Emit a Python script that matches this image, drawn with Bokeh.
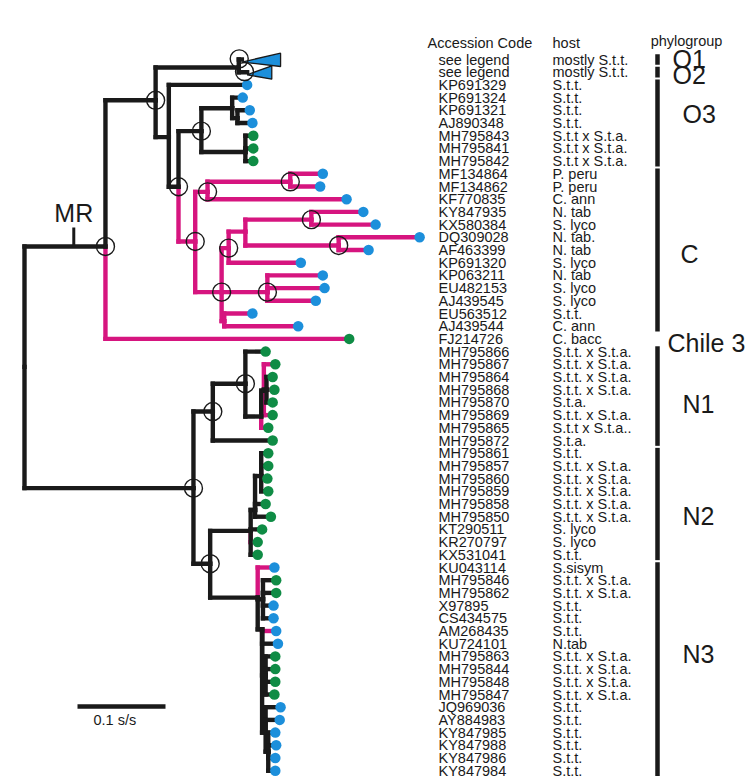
from bokeh.plotting import figure
from bokeh.models import Range1d, ColumnDataSource, Label
from bokeh.core.properties import value
from bokeh.embed import file_html
from bokeh.resources import INLINE

# ---------------- data ----------------
accessions = ["see legend", "see legend", "KP691329", "KP691324", "KP691321", "AJ890348",
              "MH795843", "MH795841", "MH795842", "MF134864", "MF134862", "KF770835",
              "KY847935", "KX580384", "DQ309028", "AF463399", "KP691320", "KP063211",
              "EU482153", "AJ439545", "EU563512", "AJ439544", "FJ214726",
              "MH795866", "MH795867", "MH795864", "MH795868", "MH795870", "MH795869",
              "MH795865", "MH795872",
              "MH795861", "MH795857", "MH795860", "MH795859", "MH795858", "MH795850",
              "KT290511", "KR270797", "KX531041",
              "KU043114", "MH795846", "MH795862", "X97895", "CS434575", "AM268435",
              "KU724101", "MH795863", "MH795844", "MH795848", "MH795847", "JQ969036",
              "AY884983", "KY847985", "KY847988", "KY847986", "KY847984"]

hosts = ["mostly S.t.t.", "mostly S.t.t.", "S.t.t.", "S.t.t.", "S.t.t.", "S.t.t.",
         "S.t.t x S.t.a.", "S.t.t x S.t.a.", "S.t.t x S.t.a.", "P. peru", "P. peru", "C. ann",
         "N. tab", "S. lyco", "N. tab.", "N. tab", "S. lyco", "N. tab",
         "S. lyco", "S. lyco", "S.t.t.", "C. ann", "C. bacc",
         "S.t.t. x S.t.a.", "S.t.t. x S.t.a.", "S.t.t. x S.t.a.", "S.t.t. x S.t.a.", "S.t.a.",
         "S.t.t. x S.t.a.", "S.t.t x S.t.a..", "S.t.a.",
         "S.t.t.", "S.t.t. x S.t.a.", "S.t.t. x S.t.a.", "S.t.t. x S.t.a.", "S.t.t. x S.t.a.",
         "S.t.t. x S.t.a.", "S. lyco", "S. lyco", "S.t.t.",
         "S.sisym", "S.t.t. x S.t.a.", "S.t.t. x S.t.a.", "S.t.t.", "S.t.t.", "S.t.t.",
         "N.tab", "S.t.t. x S.t.a.", "S.t.t. x S.t.a.", "S.t.t. x S.t.a.", "S.t.t. x S.t.a.",
         "S.t.t.", "S.t.t.", "S.t.t.", "S.t.t.", "S.t.t.", "S.t.t."]

tip_parent = ["nO12", "nO12", "n168", "n232", "n237", "n237",
              "n245g", "n245g", "n245g", "n290", "n290", "n207",
              "n311", "n311", "n338", "n338", "n228", "n267",
              "n267", "n267", "n224", "n224", "n105",
              "n245n", "n1b", "n1c", "n1c", "n1c", "n1b", "n1a", "n212",
              "n2c", "n2c", "n2c", "n2c", "n2b", "n2b", "n2a", "n2a", "n2a",
              "n3a", "n3b", "n3b", "n3b", "n3b", "n3c", "n3c", "n3d", "n3d", "n3d", "n3d",
              "n3e", "n3e", "n3f", "n3f", "n3f", "n3f"]

# distance from root (substitutions / site)
tip_depth = [0.247, 0.253, 0.253, 0.248, 0.256, 0.259,
             0.260, 0.260, 0.260, 0.339, 0.336, 0.366,
             0.385, 0.399, 0.449, 0.391, 0.314, 0.339,
             0.341, 0.331, 0.259, 0.311, 0.369,
             0.274, 0.285, 0.282, 0.284, 0.282, 0.282, 0.277, 0.282,
             0.277, 0.277, 0.276, 0.277, 0.274, 0.280, 0.270, 0.265, 0.265,
             0.284, 0.286, 0.286, 0.283, 0.283, 0.286, 0.288, 0.285, 0.285, 0.285, 0.284,
             0.291, 0.290, 0.285, 0.286, 0.285, 0.285]

# branch colour: k = black, p = pink
tip_branch = ["k", "k", "k", "k", "k", "k",
              "k", "k", "k", "p", "p", "p",
              "p", "p", "p", "p", "p", "p",
              "p", "p", "p", "p", "p",
              "k", "p", "k", "p", "k", "p", "p", "k",
              "k", "k", "k", "k", "k", "k", "k", "p", "k",
              "p", "k", "k", "k", "k", "p", "k", "k", "k", "k", "k",
              "k", "k", "k", "k", "k", "k"]

# tip marker: b = blue, g = green, c = collapsed clade
tip_state = ["c", "c", "b", "b", "b", "b",
             "g", "g", "g", "b", "b", "b",
             "b", "b", "b", "b", "b", "b",
             "b", "b", "b", "b", "g",
             "g", "g", "g", "g", "g", "g", "g", "g",
             "g", "g", "g", "g", "g", "g", "g", "g", "g",
             "b", "g", "g", "b", "b", "b", "b", "g", "g", "g", "g",
             "b", "b", "b", "b", "b", "b"]

collapsed_rows = [0, 1]
collapsed_end = [0.291, 0.281]

node_name = ["root", "n105", "n155", "nO12", "n168", "n178", "nO3", "n232", "n237", "n245g",
             "nC", "n207", "n290", "n221", "n228", "n245c", "n311", "n338", "n267", "n224",
             "n193", "n212", "n245n", "n1a", "n1b", "n1c",
             "n210", "n2a", "n2b", "n2c", "n3a", "n3b", "n3c", "n3d", "n3e", "n3f"]
node_parent = [None, "root", "n105", "n155", "n155", "n168", "n178", "nO3", "n232", "nO3",
               "n178", "nC", "n207", "nC", "n221", "n228", "n245c", "n245c", "n221", "n221",
               "root", "n193", "n212", "n245n", "n1a", "n1b",
               "n193", "n210", "n2a", "n2b", "n210", "n3a", "n3a", "n3c", "n3c", "n3e"]
node_depth = [0.0, 0.092, 0.149, 0.2435, 0.164, 0.175, 0.201, 0.236, 0.242, 0.251,
              0.194, 0.208, 0.302, 0.224, 0.232, 0.251, 0.326, 0.357, 0.276, 0.227,
              0.192, 0.214, 0.251, 0.269, 0.272, 0.275,
              0.211, 0.257, 0.262, 0.269, 0.265, 0.271, 0.270, 0.274, 0.274, 0.277]
node_row = [24.2, 14.72, 3.21, 0.63, 6.11, 10.02, 5.64, 3.84, 4.62, 7.28,
            14.33, 10.42, 9.63, 18.32, 14.85, 13.55, 12.61, 14.64, 18.32, 20.6,
            33.75, 27.72, 25.53, 28.11, 26.08, 26.0,
            39.70, 37.12, 35.47, 32.8, 42.37, 42.5, 44.87, 48.5, 53.0, 54.5]
node_branch = ["k", "k", "k", "k", "k", "k", "k", "k", "k", "k",
               "p", "p", "p", "p", "p", "p", "p", "p", "p", "p",
               "k", "k", "k", "k", "k", "k",
               "k", "k", "k", "k", "k", "k", "k", "k", "k", "k"]
node_support = [False, True, True, False, False, True, True, False, False, False,
                True, True, True, True, True, False, True, True, True, False,
                True, True, True, False, False, False,
                True, False, False, False, False, False, False, False, False, False]

groups = ["O1", "O2", "O3", "C", "Chile 3", "N1", "N2", "N3"]
group_first = [0, 1, 2, 9, 22, 23, 31, 40]
group_last = [0, 1, 8, 21, 22, 30, 39, 56]
group_has_bar = [True, True, True, True, False, True, True, True]

mr_depth = 0.056
scale_length = 0.1

# ---------------- layout / style ----------------
BLACK = "#1a1a1a"
PINK = "#d6157f"
BLUE = "#1c8fdb"
GREEN = "#0f8c45"
FONT = "Liberation Sans"

PX0 = 24.0           # page x of the root
PX_PER_UNIT = 880.0  # pixels per substitution/site
ROW0 = 59.0          # page y of first row
ROW_H = 12.70        # pixels per row


def xpx(px):
    return (px - PX0) / PX_PER_UNIT


def ypx(py):
    return (py - ROW0) / ROW_H


W, H = 750, 781
p = figure(width=W, height=H, output_backend="svg", toolbar_location=None,
           x_range=Range1d(xpx(0), xpx(W)), y_range=Range1d(ypx(H), ypx(0)),
           x_axis_location=None, y_axis_location=None, min_border=0,
           background_fill_color="white", border_fill_color="white")
p.grid.visible = False
p.outline_line_color = None

# ---------------- tree geometry ----------------
pos = {n: (d, r) for n, d, r in zip(node_name, node_depth, node_row)}
colmap = {"k": BLACK, "p": PINK}

segs = []  # (x0, y0, x1, y1, colour)
for n, par, d, r, b in zip(node_name, node_parent, node_depth, node_row, node_branch):
    if par is None:
        continue
    pd, pr = pos[par]
    segs.append((pd, pr, pd, r, colmap[b]))
    segs.append((pd, r, d, r, colmap[b]))
for i, (par, d, b) in enumerate(zip(tip_parent, tip_depth, tip_branch)):
    pd, pr = pos[par]
    segs.append((pd, pr, pd, i, colmap[b]))
    segs.append((pd, i, d, i, colmap[b]))

# pink first, black on top
segs.sort(key=lambda s: 0 if s[4] == PINK else 1)
seg_src = ColumnDataSource(dict(x0=[s[0] for s in segs], y0=[s[1] for s in segs],
                                x1=[s[2] for s in segs], y1=[s[3] for s in segs],
                                c=[s[4] for s in segs]))
p.segment("x0", "y0", "x1", "y1", source=seg_src, line_color="c", line_width=4.4,
          line_cap="square")

# collapsed clades (triangles)
tri_xs, tri_ys = [], []
for r, e in zip(collapsed_rows, collapsed_end):
    a = tip_depth[r]
    tri_xs.append([a, e, e])
    tri_ys.append([r + 0.2, r - 0.5, r + 0.55])
p.patches(tri_xs, tri_ys, fill_color=BLUE, line_color=BLACK, line_width=1.3)

# tip dots
dot_x = [d for d, s in zip(tip_depth, tip_state) if s != "c"]
dot_y = [i for i, s in enumerate(tip_state) if s != "c"]
dot_c = [BLUE if s == "b" else GREEN for s in tip_state if s != "c"]
p.scatter(dot_x, dot_y, size=10.5, fill_color=dot_c, line_color=None)

# support circles
sx = [d for d, s in zip(node_depth, node_support) if s]
sy = [r for r, s in zip(node_row, node_support) if s]
sx += [tip_depth[r] - 0.003 for r in collapsed_rows]
sy += [r - 0.05 for r in collapsed_rows]
p.scatter(sx, sy, size=18, fill_alpha=0, line_color=BLACK, line_width=1.4)

# MR marker on the branch to the upper clade
mr_row = node_row[node_name.index("n105")]
p.segment([mr_depth], [mr_row], [mr_depth], [mr_row - 1.5], line_color=BLACK, line_width=3)
p.add_layout(Label(x=mr_depth, y=mr_row - 1.55, text="MR", text_font=FONT,
                   text_font_size="25px", text_align="center", text_baseline="bottom",
                   text_color=BLACK))

# scale bar
sb_x0 = xpx(77)
sb_row = ypx(706)
p.segment([sb_x0], [sb_row], [sb_x0 + scale_length], [sb_row], line_color=BLACK, line_width=4.5)
p.add_layout(Label(x=xpx(93), y=ypx(719), text="0.1 s/s", text_font=FONT,
                   text_font_size="14.5px", text_align="left", text_baseline="middle",
                   text_color=BLACK))

# ---------------- text columns ----------------
rows = list(range(len(accessions)))
txt_src = ColumnDataSource(dict(x=[xpx(438)] * len(rows), y=rows, t=accessions))
p.text("x", "y", text="t", source=txt_src, text_font=value(FONT), text_font_size="14.5px",
       text_baseline="middle", text_align="left", text_color=BLACK)
host_src = ColumnDataSource(dict(x=[xpx(552)] * len(rows), y=rows, t=hosts))
p.text("x", "y", text="t", source=host_src, text_font=value(FONT), text_font_size="14.5px",
       text_baseline="middle", text_align="left", text_color=BLACK)

for txt, px, py, al in [("Accession Code", 427, 42, "left"), ("host", 552, 42, "left"),
                        ("phylogroup", 686, 40, "center")]:
    p.add_layout(Label(x=xpx(px), y=ypx(py), text=txt, text_font=FONT,
                       text_font_size="14.5px", text_align=al, text_baseline="middle",
                       text_color=BLACK))

# phylogroup bars
bar_x = xpx(657)
bx0, by0, bx1, by1 = [], [], [], []
for f, l, hb in zip(group_first, group_last, group_has_bar):
    if hb:
        bx0.append(bar_x); bx1.append(bar_x)
        by0.append(f - 0.42); by1.append(l + 0.42)
p.segment(bx0, by0, bx1, by1, line_color=BLACK, line_width=4.5)

group_label_px = [672, 672, 682, 680, 667, 682, 682, 682]
group_label_py = [58, 74, 113, 253, 342, 403, 515, 653]
for g, lx, ly in zip(groups, group_label_px, group_label_py):
    p.add_layout(Label(x=xpx(lx), y=ypx(ly), text=g, text_font=FONT,
                       text_font_size="25px", text_align="left", text_baseline="middle",
                       text_color=BLACK))

open("out.html", "w").write(file_html(p, INLINE))
